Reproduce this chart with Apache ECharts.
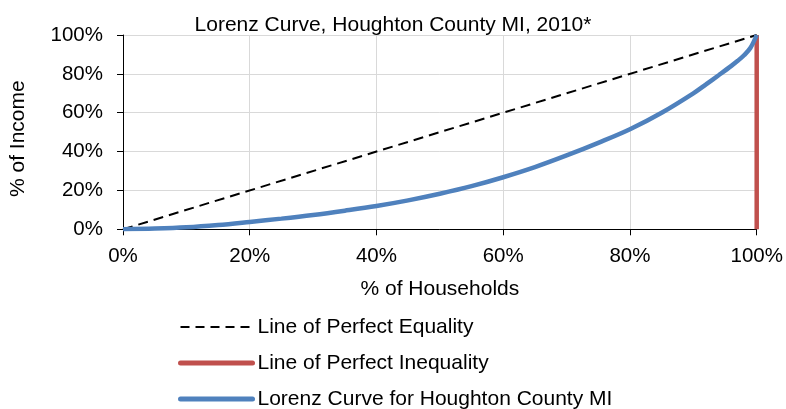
<!DOCTYPE html>
<html><head><meta charset="utf-8">
<script src="https://cdn.jsdelivr.net/npm/echarts@6/dist/echarts.min.js"></script>
<style>html,body{margin:0;padding:0;background:#fff}#c{width:786px;height:409px}</style>
</head><body><div id="c"></div>
<script>
const households = [0, 5, 10, 15, 20, 25, 30, 35, 40, 45, 50, 55, 60, 65, 70, 75, 80, 85, 90, 92, 94, 96, 97, 98, 99, 100];
const income = [0, 0.35, 1.0, 2.2, 3.8, 5.5, 7.4, 9.6, 12.0, 14.9, 18.3, 22.2, 26.8, 32.0, 38.0, 44.5, 51.5, 60.0, 70.0, 74.6, 79.3, 84.1, 86.7, 89.6, 93.3, 100];
const equalityX = [0, 100];
const equalityY = [0, 100];
const inequalityX = [100, 100];
const inequalityY = [0, 100];
const tickLabels = ['0%', '20%', '40%', '60%', '80%', '100%'];

const zip = (a, b) => a.map((v, i) => [v, b[i]]);
const font = 'Liberation Sans, Arial, sans-serif';
const chart = echarts.init(document.getElementById('c'));
chart.setOption({
  animation: false,
  title: {
    text: 'Lorenz Curve, Houghton County MI, 2010*',
    left: 388, top: 10, textAlign: 'center',
    textStyle: { fontFamily: font, fontSize: 21, fontWeight: 'normal', color: '#000' }
  },
  grid: { left: 122.7, right: 29.3, top: 35, bottom: 179.7, containLabel: false },
  xAxis: {
    type: 'value', min: 0, max: 100, interval: 20,
    name: '% of Households', nameLocation: 'middle', nameGap: 49,
    nameTextStyle: { fontFamily: font, fontSize: 21, color: '#000' },
    axisLine: { show: true, lineStyle: { color: '#000', width: 1 } },
    axisTick: { show: true, length: 6, lineStyle: { color: '#000' } },
    axisLabel: { fontFamily: font, fontSize: 20.5, color: '#000', margin: 17,
      formatter: v => tickLabels[Math.round(v / 20)] },
    splitLine: { show: true, lineStyle: { color: '#d9d9d9', width: 1 } }
  },
  yAxis: {
    type: 'value', min: 0, max: 100, interval: 20,
    name: '% of Income', nameLocation: 'middle', nameGap: 94, nameRotate: 90,
    nameTextStyle: { fontFamily: font, fontSize: 21, color: '#000', padding: [0, 13, 0, 0] },
    axisLine: { show: true, lineStyle: { color: '#000', width: 1 } },
    axisTick: { show: true, length: 6, lineStyle: { color: '#000' } },
    axisLabel: { fontFamily: font, fontSize: 20.5, color: '#000', margin: 20,
      formatter: v => tickLabels[Math.round(v / 20)] },
    splitLine: { show: true, lineStyle: { color: '#d9d9d9', width: 1 } }
  },
  legend: {
    orient: 'vertical', left: 178, top: 316.5, height: 120, padding: 0,
    itemWidth: 72, itemHeight: 14, itemGap: 15,
    itemStyle: { opacity: 0 },
    lineStyle: { width: 'inherit', cap: 'round' },
    textStyle: { fontFamily: font, fontSize: 21, color: '#000' },
    data: [
      { name: 'Line of Perfect Equality', lineStyle: { width: 2, type: [9, 6], cap: 'butt' } },
      { name: 'Line of Perfect Inequality', lineStyle: { width: 5, cap: 'round' } },
      { name: 'Lorenz Curve for Houghton County MI', lineStyle: { width: 5, cap: 'round' } }
    ]
  },
  series: [
    { name: 'Line of Perfect Equality', type: 'line', data: zip(equalityX, equalityY), symbol: 'none',
      lineStyle: { color: '#000', width: 2, type: [10, 6] }, itemStyle: { color: '#000' } },
    { name: 'Line of Perfect Inequality', type: 'line', data: zip(inequalityX, inequalityY), symbol: 'none',
      lineStyle: { color: '#C0504D', width: 4.5 }, itemStyle: { color: '#C0504D' } },
    { name: 'Lorenz Curve for Houghton County MI', type: 'line', data: zip(households, income), symbol: 'none',
      smooth: 0.35, lineStyle: { color: '#4F81BD', width: 4.5 }, itemStyle: { color: '#4F81BD' } }
  ]
});
</script></body></html>
